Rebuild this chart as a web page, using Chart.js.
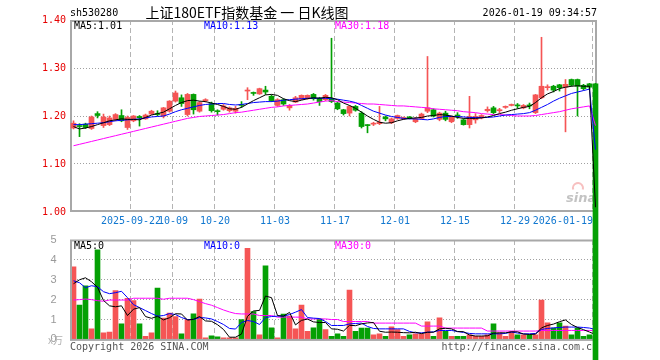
<!DOCTYPE html>
<html lang="zh-CN">
<head>
<meta charset="UTF-8">
<title>sh530280 日K线图</title>
<script src="https://cdn.jsdelivr.net/npm/chart.js@4.4.1/dist/chart.umd.min.js"></script>
<style>
    body { margin: 0; background: #fff; }
    #wrap { position: relative; width: 660px; height: 360px; background: #fff; }
    #wrap canvas { position: absolute; left: 0; top: 0; }
</style>
</head>
<body>
<div id="wrap">
    <canvas id="volChart" width="660" height="360"></canvas>
    <canvas id="kChart" width="660" height="360"></canvas>
</div>

<script>
// trading days shown on the chart
var dates = [
    '2025-09-08','2025-09-09','2025-09-10','2025-09-11','2025-09-12',
    '2025-09-15','2025-09-16','2025-09-17','2025-09-18','2025-09-19',
    '2025-09-22','2025-09-23','2025-09-24','2025-09-25','2025-09-26',
    '2025-09-29','2025-09-30','2025-10-09','2025-10-10',
    '2025-10-13','2025-10-14','2025-10-15','2025-10-16','2025-10-17',
    '2025-10-20','2025-10-21','2025-10-22','2025-10-23','2025-10-24',
    '2025-10-27','2025-10-28','2025-10-29','2025-10-30','2025-10-31',
    '2025-11-03','2025-11-04','2025-11-05','2025-11-06','2025-11-07',
    '2025-11-10','2025-11-11','2025-11-12','2025-11-13','2025-11-14',
    '2025-11-17','2025-11-18','2025-11-19','2025-11-20','2025-11-21',
    '2025-11-24','2025-11-25','2025-11-26','2025-11-27','2025-11-28',
    '2025-12-01','2025-12-02','2025-12-03','2025-12-04','2025-12-05',
    '2025-12-08','2025-12-09','2025-12-10','2025-12-11','2025-12-12',
    '2025-12-15','2025-12-16','2025-12-17','2025-12-18','2025-12-19',
    '2025-12-22','2025-12-23','2025-12-24','2025-12-25','2025-12-26',
    '2025-12-29','2025-12-30','2025-12-31',
    '2026-01-05','2026-01-06','2026-01-07','2026-01-08','2026-01-09',
    '2026-01-12','2026-01-13','2026-01-14','2026-01-15','2026-01-16',
    '2026-01-19'
];

var tickDates  = ['2025-09-22','2025-10-09','2025-10-20','2025-11-03','2025-11-17','2025-12-01','2025-12-15','2025-12-29','2026-01-19'];
var tickLabels = ['2025-09-22','10-09','10-20','11-03','11-17','12-01','12-15','12-29','2026-01-19'];

var open = [
    1.175,1.180,1.183,1.174,1.205,1.180,1.182,1.193,1.201,1.176,
    1.190,1.199,1.194,1.204,1.205,1.200,1.210,1.231,1.238,1.203,
    1.245,1.210,1.232,1.226,1.211,1.214,1.211,1.210,1.224,1.252,
    1.248,1.246,1.254,1.241,1.222,1.234,1.217,1.229,1.235,1.236,
    1.245,1.237,1.234,1.236,1.227,1.213,1.206,1.220,1.206,1.181,
    1.183,1.184,1.198,1.186,1.195,1.194,1.198,1.188,1.195,1.210,
    1.213,1.193,1.206,1.188,1.202,1.192,1.182,1.192,1.196,1.211,
    1.217,1.211,1.218,1.222,1.222,1.217,1.223,1.207,1.238,1.259,
    1.262,1.265,1.260,1.276,1.276,1.264,1.267,1.267
];
var high = [
    1.190,1.184,1.185,1.200,1.209,1.204,1.200,1.205,1.213,1.200,
    1.201,1.201,1.204,1.212,1.211,1.218,1.232,1.252,1.244,1.247,
    1.246,1.230,1.236,1.229,1.213,1.224,1.219,1.220,1.230,1.259,
    1.250,1.258,1.262,1.244,1.236,1.236,1.224,1.241,1.244,1.244,
    1.247,1.239,1.245,1.362,1.229,1.214,1.222,1.222,1.209,1.182,
    1.187,1.220,1.200,1.196,1.202,1.198,1.199,1.197,1.206,1.324,
    1.215,1.208,1.210,1.200,1.207,1.194,1.241,1.205,1.203,1.219,
    1.220,1.216,1.221,1.225,1.226,1.224,1.227,1.245,1.364,1.265,
    1.264,1.266,1.276,1.277,1.277,1.266,1.268,1.268
];
var low = [
    1.173,1.157,1.174,1.172,1.196,1.176,1.180,1.190,1.188,1.172,
    1.188,1.179,1.193,1.203,1.200,1.196,1.208,1.229,1.220,1.200,
    1.204,1.208,1.229,1.208,1.202,1.212,1.208,1.206,1.218,1.234,
    1.243,1.245,1.245,1.230,1.220,1.222,1.212,1.228,1.234,1.235,
    1.233,1.222,1.232,1.228,1.213,1.202,1.200,1.210,1.175,1.165,
    1.180,1.182,1.190,1.184,1.193,1.193,1.194,1.186,1.193,1.207,
    1.198,1.190,1.190,1.186,1.195,1.181,1.175,1.185,1.194,1.208,
    1.205,1.207,1.216,1.221,1.216,1.215,1.215,1.205,1.236,1.254,
    1.250,1.252,1.167,1.262,1.200,1.254,1.256,0
];
var close = [
    1.185,1.178,1.176,1.198,1.201,1.198,1.196,1.203,1.190,1.197,
    1.200,1.196,1.202,1.210,1.203,1.217,1.231,1.248,1.226,1.245,
    1.213,1.228,1.234,1.211,1.209,1.221,1.217,1.216,1.222,1.254,
    1.247,1.257,1.250,1.232,1.234,1.225,1.222,1.238,1.243,1.243,
    1.236,1.230,1.243,1.230,1.215,1.205,1.220,1.212,1.178,1.180,
    1.185,1.187,1.194,1.194,1.201,1.197,1.195,1.194,1.204,1.217,
    1.200,1.206,1.193,1.199,1.200,1.182,1.199,1.199,1.201,1.214,
    1.207,1.213,1.220,1.224,1.221,1.222,1.221,1.244,1.262,1.261,
    1.254,1.259,1.266,1.264,1.262,1.257,1.260,0
];

var ma5 = [
    1.178,1.173,1.175,1.178,1.182,1.186,1.190,1.192,1.194,1.193,
    1.193,1.192,1.197,1.202,1.205,1.208,1.215,1.222,1.228,1.232,
    1.233,1.231,1.230,1.227,1.224,1.220,1.215,1.214,1.218,1.225,
    1.232,1.238,1.244,1.245,1.243,1.236,1.232,1.230,1.233,1.236,
    1.238,1.237,1.239,1.238,1.234,1.227,1.222,1.216,1.208,1.200,
    1.193,1.187,1.185,1.186,1.190,1.193,1.195,1.196,1.197,1.200,
    1.201,1.203,1.202,1.200,1.197,1.195,1.195,1.195,1.196,1.198,
    1.201,1.205,1.208,1.212,1.215,1.218,1.220,1.228,1.238,1.246,
    1.251,1.257,1.260,1.262,1.263,1.262,1.262,1.010
];
var ma10 = [
    1.182,1.182,1.183,1.184,1.185,1.186,1.188,1.190,1.191,1.192,
    1.193,1.194,1.196,1.198,1.199,1.200,1.204,1.209,1.213,1.216,
    1.219,1.222,1.224,1.225,1.226,1.226,1.224,1.223,1.224,1.226,
    1.228,1.229,1.230,1.230,1.231,1.233,1.234,1.235,1.236,1.237,
    1.237,1.237,1.237,1.236,1.235,1.233,1.231,1.228,1.222,1.216,
    1.210,1.206,1.202,1.199,1.197,1.195,1.194,1.194,1.193,1.192,
    1.194,1.197,1.199,1.199,1.199,1.198,1.197,1.197,1.197,1.197,
    1.198,1.200,1.202,1.203,1.204,1.205,1.207,1.212,1.218,1.224,
    1.231,1.237,1.242,1.247,1.250,1.253,1.256,1.130
];
var ma30 = [
    1.138,1.141,1.144,1.147,1.150,1.153,1.156,1.159,1.162,1.165,
    1.168,1.171,1.174,1.177,1.180,1.183,1.186,1.189,1.192,1.195,
    1.197,1.199,1.200,1.201,1.202,1.203,1.205,1.207,1.208,1.210,
    1.212,1.214,1.216,1.218,1.219,1.221,1.222,1.223,1.224,1.225,
    1.227,1.229,1.231,1.232,1.230,1.229,1.228,1.227,1.226,1.225,
    1.225,1.224,1.223,1.222,1.221,1.221,1.220,1.219,1.218,1.217,
    1.215,1.214,1.213,1.212,1.211,1.209,1.208,1.207,1.205,1.204,
    1.203,1.203,1.202,1.201,1.200,1.200,1.200,1.201,1.203,1.205,
    1.207,1.209,1.212,1.215,1.217,1.219,1.221,1.180
];

// volume, in 10k
var volume = [
    3.65,1.73,2.70,0.53,4.50,0.33,0.37,2.45,0.78,2.07,
    1.95,0.78,0.15,0.33,2.58,1.07,1.33,1.15,0.28,1.00,
    1.28,2.03,0.08,0.18,0.13,0.08,0.08,0.08,1.00,4.58,
    1.40,0.23,3.70,0.58,0.08,1.27,1.17,0.53,1.73,0.40,
    0.58,1.03,0.50,0.15,0.28,0.15,2.48,0.40,0.57,0.57,
    0.23,0.28,0.15,0.63,0.50,0.15,0.23,0.28,0.28,0.88,
    0.15,1.08,0.40,0.15,0.15,0.15,0.23,0.15,0.15,0.23,
    0.78,0.33,0.15,0.40,0.23,0.23,0.23,0.23,1.98,0.83,
    0.57,0.83,0.67,0.23,0.57,0.15,0.23,0
];
var vma5 = [
    2.80,3.00,3.10,2.90,2.62,1.96,1.69,1.64,1.69,1.20,
    1.52,1.60,1.15,1.06,1.16,0.98,1.09,1.29,1.28,0.97,
    1.01,1.15,0.93,0.91,0.74,0.50,0.11,0.11,0.27,1.16,
    1.43,1.46,2.18,2.10,1.20,1.17,1.36,0.73,0.96,1.02,
    0.88,0.85,0.85,0.53,0.51,0.42,0.71,0.69,0.78,0.83,
    0.85,0.41,0.36,0.37,0.36,0.34,0.33,0.36,0.29,0.36,
    0.36,0.53,0.56,0.53,0.39,0.39,0.22,0.17,0.17,0.18,
    0.31,0.33,0.33,0.38,0.38,0.27,0.25,0.26,0.58,0.70,
    0.77,0.89,0.98,0.75,0.60,0.49,0.37,0.24
];
var vma10 = [
    2.95,2.85,2.60,2.70,2.65,2.40,2.30,2.35,2.42,2.10,
    1.75,1.60,1.45,1.30,1.17,1.20,1.30,1.25,1.10,1.00,
    1.00,1.10,1.08,1.03,0.90,0.75,0.55,0.52,0.85,0.95,
    0.90,0.75,1.10,1.15,1.17,1.17,1.25,1.37,1.50,1.10,
    1.07,1.05,0.90,0.70,0.70,0.70,0.78,0.80,0.82,0.65,
    0.55,0.53,0.53,0.53,0.53,0.53,0.40,0.33,0.33,0.36,
    0.38,0.45,0.45,0.45,0.40,0.35,0.30,0.28,0.28,0.28,
    0.28,0.28,0.30,0.37,0.32,0.28,0.28,0.30,0.50,0.55,
    0.58,0.60,0.62,0.62,0.62,0.60,0.57,0.50
];
var vma30 = [
    1.98,2.00,2.03,2.00,1.95,1.92,1.98,1.98,1.98,1.98,
    2.07,2.07,2.07,2.07,2.07,2.02,2.07,2.07,2.07,2.07,
    2.00,1.90,1.80,1.72,1.60,1.48,1.38,1.30,1.28,1.28,
    1.28,1.20,1.20,1.20,1.12,1.12,1.12,1.12,1.12,1.03,
    1.03,1.03,1.03,1.00,1.00,0.90,0.90,0.90,0.90,0.90,
    0.82,0.82,0.82,0.82,0.82,0.82,0.82,0.82,0.67,0.67,
    0.67,0.67,0.57,0.57,0.57,0.57,0.57,0.57,0.57,0.42,
    0.42,0.42,0.42,0.42,0.42,0.42,0.42,0.42,0.45,0.45,
    0.45,0.45,0.45,0.45,0.45,0.45,0.45,0.45
];
var volMaNow = [0, 0, 0];

(function(){
    var RED = '#f55555', GREEN = '#04a004';
    var MONO = "'DejaVu Sans Mono', monospace";
    var gridIdx = tickDates.map(function(d){ return dates.indexOf(d); });

    var colors = [], bodies = [], wicks = [];
    for (var i = 0; i < dates.length; i++) {
        colors.push(close[i] >= open[i] ? RED : GREEN);
        bodies.push([Math.min(open[i], close[i]), Math.max(open[i], close[i])]);
        wicks.push([low[i], high[i]]);
    }

    function vGrid(ctx) {
        return gridIdx.indexOf(ctx.index) >= 0 ? '#b4b4b4' : 'rgba(0,0,0,0)';
    }
    function maLine(data, color) {
        return { type: 'line', data: data, borderColor: color, borderWidth: 1,
                 pointRadius: 0, tension: 0, fill: false, order: 0 };
    }
    function text(c, s, x, y, color, font, align) {
        c.fillStyle = color;
        c.font = font;
        c.textAlign = align || 'left';
        c.textBaseline = 'middle';
        c.fillText(s, x, y);
    }

    var kPlugin = {
        id: 'kDecor',
        beforeDatasetsDraw: function(chart) {
            var c = chart.ctx, a = chart.chartArea, xs = chart.scales.x;
            c.save();
            c.strokeStyle = '#a8a8a8';
            c.lineWidth = 2;
            c.strokeRect(71, a.top + 1, 525, a.bottom - a.top - 2);

            text(c, 'sh530280', 70, 13, '#000', '10px ' + MONO);
            text(c, '上证180ETF指数基金 一 日K线图', 247, 13, '#000', "14px 'Noto Sans CJK SC'", 'center');
            text(c, '2026-01-19 09:34:57', 597, 13, '#000', '10px ' + MONO, 'right');

            text(c, 'MA5:' + ma5[ma5.length - 1].toFixed(2), 74, 26, '#000', '10px ' + MONO);
            text(c, 'MA10:' + ma10[ma10.length - 1].toFixed(2), 204, 26, '#0000ff', '10px ' + MONO);
            text(c, 'MA30:' + ma30[ma30.length - 1].toFixed(2), 335, 26, '#ff00ff', '10px ' + MONO);

            // date labels under the price panel
            c.font = '10px ' + MONO;
            for (var k = 0; k < tickDates.length; k++) {
                var gx = Math.round(xs.getPixelForValue(gridIdx[k]) - 3);
                var w = c.measureText(tickLabels[k]).width;
                var align = gx + w / 2 > a.right - 4 ? 'right' : 'center';
                text(c, tickLabels[k], gx, 221, '#1278d0', '10px ' + MONO, align);
            }

            // faint site mark
            c.strokeStyle = 'rgba(240,140,140,0.55)';
            c.lineWidth = 2;
            c.beginPath();
            c.arc(578, 188, 5, Math.PI * 0.9, Math.PI * 2.1);
            c.stroke();
            text(c, 'sina', 566, 199, 'rgba(170,170,170,0.7)', "italic bold 13px 'DejaVu Sans'");
            c.restore();
        }
    };

    var volPlugin = {
        id: 'volDecor',
        afterDraw: function(chart) {
            var c = chart.ctx, a = chart.chartArea;
            c.save();
            c.strokeStyle = '#a8a8a8';
            c.lineWidth = 2;
            c.strokeRect(71, a.top + 0.5, 525, a.bottom - a.top);

            text(c, 'MA5:' + volMaNow[0], 74, 246, '#000', '10px ' + MONO);
            text(c, 'MA10:' + volMaNow[1], 204, 246, '#0000ff', '10px ' + MONO);
            text(c, 'MA30:' + volMaNow[2], 335, 246, '#ff00ff', '10px ' + MONO);

            text(c, 'x万', 48, 340, '#b0b0b0', "10px 'Noto Sans CJK SC'");
            text(c, 'Copyright 2026 SINA.COM', 70, 347, '#555', '10px ' + MONO);
            text(c, 'http://finance.sina.com.cn', 598, 347, '#555', '10px ' + MONO, 'right');
            c.restore();
        }
    };

    new Chart(document.getElementById('volChart').getContext('2d'), {
        type: 'bar',
        data: {
            labels: dates,
            datasets: [
                maLine(vma5, '#000000'),
                maLine(vma10, '#0000ff'),
                maLine(vma30, '#ff00ff'),
                { type: 'bar', data: volume, backgroundColor: colors, barThickness: 5,
                  grouped: false, order: 2 }
            ]
        },
        options: {
            responsive: false, animation: false, devicePixelRatio: 1,
            layout: { padding: { top: 240, right: 61.5, bottom: 20, left: 0 } },
            plugins: { legend: { display: false }, tooltip: { enabled: false } },
            scales: {
                x: {
                    offset: true,
                    ticks: { display: false },
                    grid: { offset: true, drawTicks: false, color: vGrid },
                    border: { display: false, dash: [5, 3] },
                    afterFit: function(s){ s.height = 0; }
                },
                y: {
                    min: 0, max: 5,
                    ticks: { stepSize: 1, color: '#999', padding: 14,
                             font: { family: "'Liberation Sans'", size: 11 } },
                    grid: { drawTicks: false, color: function(ctx){
                        var v = ctx.tick ? ctx.tick.value : 0;
                        return v > 0 && v < 5 ? '#a0a0a0' : 'rgba(0,0,0,0)';
                    } },
                    border: { display: false, dash: [1, 2] },
                    afterFit: function(s){ s.width = 70.5; }
                }
            }
        },
        plugins: [volPlugin]
    });

    new Chart(document.getElementById('kChart').getContext('2d'), {
        type: 'bar',
        data: {
            labels: dates,
            datasets: [
                maLine(ma5, '#000000'),
                maLine(ma10, '#0000ff'),
                maLine(ma30, '#ff00ff'),
                { type: 'bar', data: bodies, backgroundColor: colors, barThickness: 5,
                  minBarLength: 1, grouped: false, clip: false, order: 2 },
                { type: 'bar', data: wicks, backgroundColor: colors, barThickness: 1,
                  grouped: false, clip: false, order: 3 }
            ]
        },
        options: {
            responsive: false, animation: false, devicePixelRatio: 1,
            layout: { padding: { top: 20, right: 61.5, bottom: 148, left: 0 } },
            plugins: { legend: { display: false }, tooltip: { enabled: false } },
            scales: {
                x: {
                    offset: true,
                    ticks: { display: false },
                    grid: { offset: true, drawTicks: false, color: vGrid },
                    border: { display: false, dash: [5, 3] },
                    afterFit: function(s){ s.height = 0; }
                },
                y: {
                    min: 1.0, max: 1.4,
                    ticks: { stepSize: 0.1, color: '#e60000', padding: 4.5,
                             font: { family: MONO, size: 10 },
                             callback: function(v){ return v.toFixed(2); } },
                    grid: { drawTicks: false, color: function(ctx){
                        var v = ctx.tick ? ctx.tick.value : 0;
                        return v > 1.05 && v < 1.35 ? '#a0a0a0' : 'rgba(0,0,0,0)';
                    } },
                    border: { display: false, dash: [1, 2] },
                    afterFit: function(s){ s.width = 70.5; }
                }
            }
        },
        plugins: [kPlugin]
    });
})();
</script>
</body>
</html>
